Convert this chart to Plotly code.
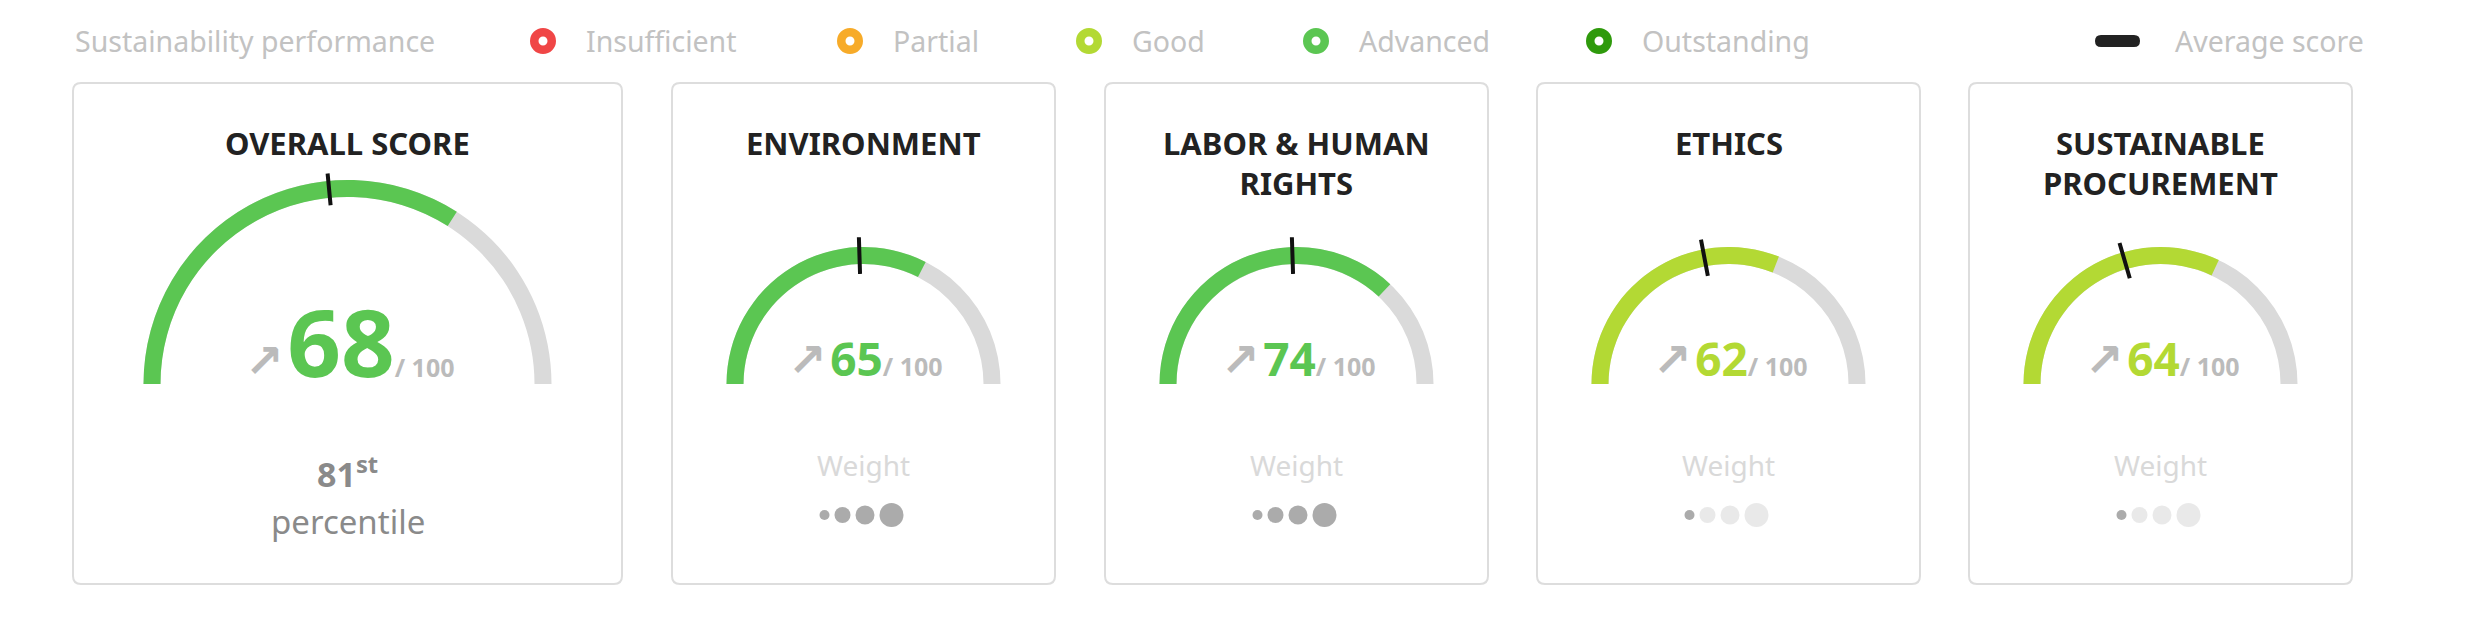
import plotly.graph_objects as go

W, H = 2483, 619

# ---- data ----
categories = ["OVERALL SCORE", "ENVIRONMENT", "LABOR & HUMAN<br>RIGHTS",
              "ETHICS", "SUSTAINABLE<br>PROCUREMENT"]
scores = [68, 65, 74, 62, 64]
average_scores = [47, 49, 49, 44, 41]
performance = ["Advanced", "Advanced", "Advanced", "Good", "Good"]
weights = [4, 4, 1, 1]          # pillar weights, out of 4 dots
overall_percentile = 81
percentile_suffix = "st"

levels = ["Insufficient", "Partial", "Good", "Advanced", "Outstanding"]
level_colors = ["#f04646", "#f7ab29", "#b3d934", "#5bc652", "#2f9a0c"]
legend_title = "Sustainability performance"
average_label = "Average score"

# ---- layout (pixels) ----
card_x0 = [73, 672, 1105, 1537, 1969]
card_w = [549, 383, 383, 383, 383]
card_top, card_bottom = 83, 584
gauge_base = 384
ring_outer = [204, 137, 137, 137, 137]
ring_width = 17
marker_len = [32, 42, 42, 42, 42]
big_font = [94, 46, 46, 46, 46]
score_y = [341, 358, 358, 358, 358]

font = "Noto Sans"
track = "#dadada"
color_of = dict(zip(levels, level_colors))

fig = go.Figure()


def rounded_rect(x0, y0, x1, y1, r):
    return (f"M{x0+r},{y0} L{x1-r},{y0} Q{x1},{y0} {x1},{y0+r} "
            f"L{x1},{y1-r} Q{x1},{y1} {x1-r},{y1} L{x0+r},{y1} "
            f"Q{x0},{y1} {x0},{y1-r} L{x0},{y0+r} Q{x0},{y0} {x0+r},{y0} Z")


shapes = []
annotations = []

for i, name in enumerate(categories):
    x0 = card_x0[i]
    x1 = x0 + card_w[i]
    cx = (x0 + x1) / 2
    shapes.append(dict(type="path", xref="x", yref="y", layer="below",
                       path=rounded_rect(x0, card_top, x1, card_bottom, 8),
                       line=dict(color="#dddddd", width=2), fillcolor="white"))

    # gauge geometry: plotly ring runs from 0.75R to R
    rm = ring_outer[i] - ring_width / 2
    R = rm / 0.875
    t = ring_width / (0.25 * R)
    th = min(1.0, marker_len[i] / (0.25 * R))
    col = color_of[performance[i]]
    fig.add_trace(go.Indicator(
        mode="gauge",
        value=scores[i],
        domain=dict(x=[(cx - R) / W, (cx + R) / W],
                    y=[(H - gauge_base) / H, (H - gauge_base + R) / H]),
        gauge=dict(
            shape="angular",
            axis=dict(range=[0, 100], visible=False),
            bar=dict(color=col, thickness=t, line=dict(width=0)),
            bgcolor="rgba(0,0,0,0)",
            borderwidth=0,
            steps=[dict(range=[0, 100], color=track, thickness=t, line=dict(width=0))],
            threshold=dict(line=dict(color="#111111", width=4),
                           thickness=th, value=average_scores[i]),
        ),
    ))

    n_lines = name.count("<br>") + 1
    annotations.append(dict(
        x=cx, y=143 + (n_lines - 1) * 40 / 2, xref="x", yref="y",
        text=f"<b>{name}</b>", showarrow=False, xanchor="center", yanchor="middle",
        font=dict(family=font, size=31, color="#222222")))

    annotations.append(dict(
        x=cx + 2, y=score_y[i], xref="x", yref="y", showarrow=False,
        xanchor="center", yanchor="middle",
        text=("<span style='font-family:DejaVu Sans;font-weight:bold;font-size:46px;"
              "color:#bbbbbb'>↗</span><span style='font-size:14px'> </span>"
              f"<b>{scores[i]}</b>"
              "<span style='font-size:25px;color:#bbbbbb'><b>/ 100</b></span>"),
        font=dict(family=font, size=big_font[i], color=col)))

# overall percentile
ocx = card_x0[0] + card_w[0] / 2
annotations.append(dict(x=ocx, y=472, xref="x", yref="y", showarrow=False,
                        text=f"<b>{overall_percentile}<sup>{percentile_suffix}</sup></b>",
                        font=dict(family=font, size=34, color="#8a8a8a")))
annotations.append(dict(x=ocx, y=521, xref="x", yref="y", showarrow=False,
                        text="percentile",
                        font=dict(family=font, size=33, color="#8a8a8a")))

# weight dots for the four pillars
dot_dx = [-39, -21, 1.5, 28]
dot_size = [10, 16, 19, 24]
dx, dy, ds, dc = [], [], [], []
for j, w in enumerate(weights):
    cx = card_x0[j + 1] + card_w[j + 1] / 2
    annotations.append(dict(x=cx, y=465, xref="x", yref="y", showarrow=False,
                            text="Weight", font=dict(family=font, size=28, color="#d9d9d9")))
    for k in range(4):
        dx.append(cx + dot_dx[k])
        dy.append(515)
        ds.append(dot_size[k])
        dc.append("#888888" if k < w else "#e0e0e0")
fig.add_trace(go.Scatter(x=dx, y=dy, mode="markers", hoverinfo="skip",
                         marker=dict(size=ds, color=dc, line=dict(width=0))))

# legend row
legend_y = 41
ring_x = [543, 850, 1089, 1316, 1599]
annotations.append(dict(x=73, y=legend_y, xref="x", yref="y", showarrow=False,
                        xanchor="left", text=legend_title,
                        font=dict(family=font, size=28.5, color="#c2c2c2")))
fig.add_trace(go.Scatter(x=ring_x, y=[legend_y] * len(levels), mode="markers",
                         hoverinfo="skip",
                         marker=dict(size=17.5, color="white",
                                     line=dict(color=level_colors, width=8.5))))
for lx, lab in zip(ring_x, levels):
    annotations.append(dict(x=lx + 41, y=legend_y, xref="x", yref="y", showarrow=False,
                            xanchor="left", text=lab,
                            font=dict(family=font, size=28.5, color="#c2c2c2")))
shapes.append(dict(type="path", xref="x", yref="y",
                   path=rounded_rect(2095, legend_y - 6, 2140, legend_y + 6, 6),
                   line=dict(width=0), fillcolor="#222222"))
annotations.append(dict(x=2173, y=legend_y, xref="x", yref="y", showarrow=False,
                        xanchor="left", text=average_label,
                        font=dict(family=font, size=28.5, color="#c2c2c2")))

fig.update_layout(
    width=W, height=H,
    margin=dict(l=0, r=0, t=0, b=0),
    paper_bgcolor="white", plot_bgcolor="rgba(0,0,0,0)",
    showlegend=False,
    xaxis=dict(range=[0, W], visible=False, fixedrange=True),
    yaxis=dict(range=[H, 0], visible=False, fixedrange=True),
    shapes=shapes,
    annotations=annotations,
)

fig.write_html("out.html", config=dict(displayModeBar=False),
               post_script="document.body.style.margin='0';")
